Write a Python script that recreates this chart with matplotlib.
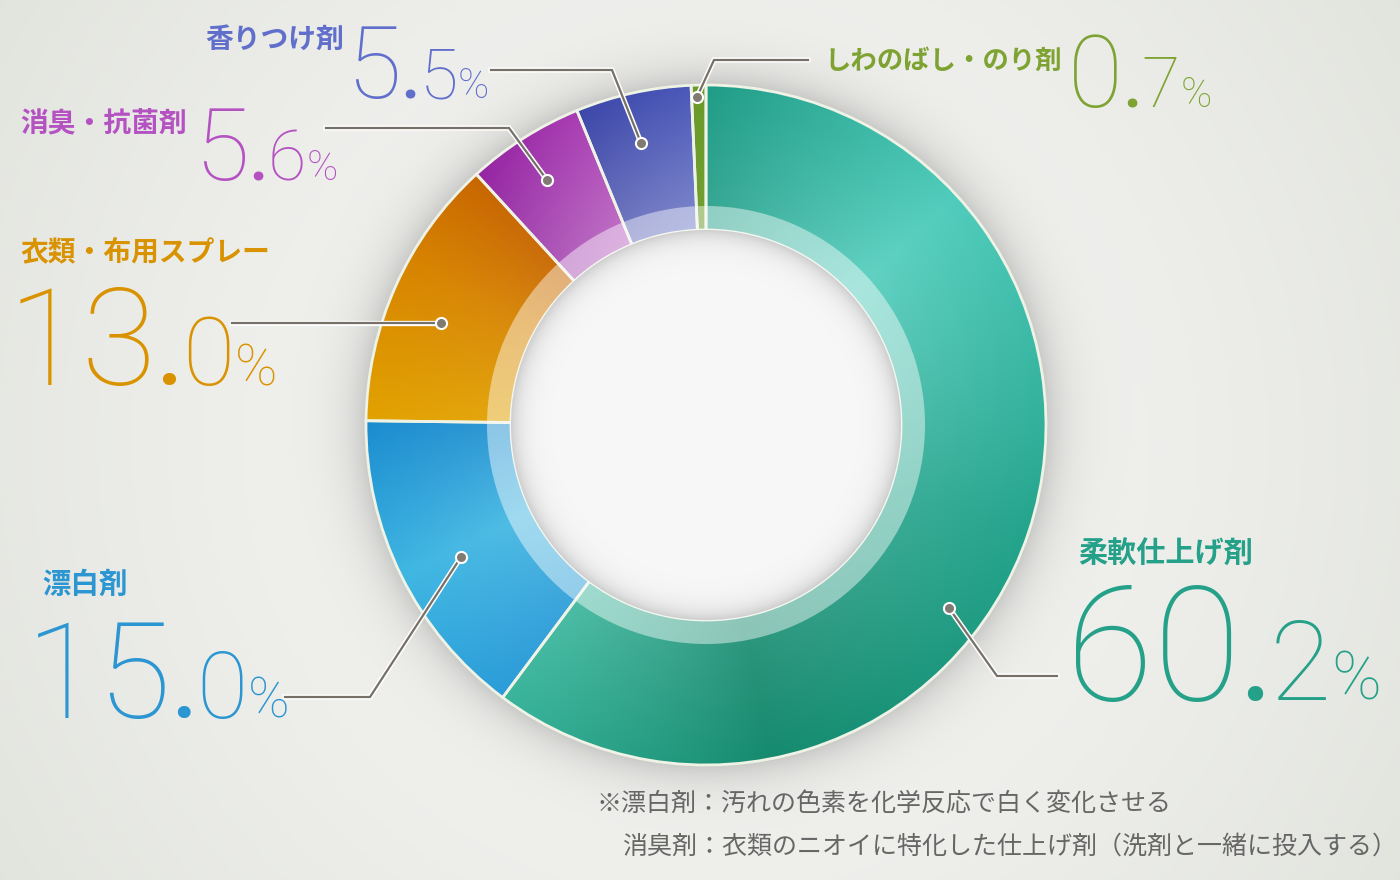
import numpy as np
import matplotlib
matplotlib.use('Agg')
import matplotlib.pyplot as plt
from matplotlib.patches import Circle, Wedge
from matplotlib.colors import to_rgb
import matplotlib.patheffects as pe

plt.rcParams['font.family'] = ['Noto Sans CJK JP', 'DejaVu Sans']

# data
labels = ['柔軟仕上げ剤', '漂白剤', '衣類・布用スプレー', '消臭・抗菌剤', '香りつけ剤', 'しわのばし・のり剤']
shares = [60.2, 15.0, 13.0, 5.6, 5.5, 0.7]
notes = ['※漂白剤：汚れの色素を化学反応で白く変化させる',
         '消臭剤：衣類のニオイに特化した仕上げ剤（洗剤と一緒に投入する）']

# colours
text_colors = ['#25a189', '#2b96d2', '#d99200', '#b452c2', '#5f6fcb', '#7ea332']
base_colors = ['#2aae96', '#2fa6dc', '#d88a00', '#a83cb4', '#4c5abc', '#6a9a28']
# angular colour stops along each slice (clockwise), plus lightening toward the hole
grad_stops = [
    [(0.0, '#1f9c86'), (0.22, '#50ccbc'), (0.5, '#24a48c'), (0.78, '#158a6e'), (1.0, '#3ab59c')],
    [(0.0, '#2a9cd8'), (0.5, '#3fb6e2'), (1.0, '#1a8ccf')],
    [(0.0, '#e2a200'), (0.6, '#d78400'), (1.0, '#c86600')],
    [(0.0, '#9424a2'), (1.0, '#a83cb2')],
    [(0.0, '#3c46a8'), (1.0, '#4a58b8')],
    [(0.0, '#6a9a28'), (1.0, '#6a9a28')],
]
lighten = [0.12, 0.1, 0.06, 0.3, 0.3, 0.05]

# layout (pixels from top-left)
W, H = 1400, 880
CX, CY = 706, 425
R_OUT, R_BAND, R_IN = 340, 219, 195
label_xy = [(1078, 553), (42, 585), (20, 252), (20, 123), (205, 40), (824, 61)]
label_size = [21, 20.5, 20, 20, 20, 19]
num_xy = [(1066, 700), (26, 718), (8, 385), (194, 180), (346, 98), (1068, 107)]
num_size = [115, 96, 98, 72, 72, 72]
leaders = [
    [(949, 608), (997, 676), (1057, 676)],
    [(461, 557), (370, 697), (285, 697)],
    [(441, 323), (232, 323)],
    [(547, 180), (509, 128), (326, 128)],
    [(641, 143), (612, 70), (491, 70)],
    [(697, 97), (714, 60), (808, 60)],
]

fig = plt.figure(figsize=(14, 8.8), dpi=100)
ax = fig.add_axes([0, 0, 1, 1])

# background with soft shadow around the ring
yy, xx = np.mgrid[0:H, 0:W] + 0.5
d = np.hypot(xx - 700, yy - 440) / 820
bg0, bg1 = np.array(to_rgb('#f6f6f4')), np.array(to_rgb('#e2e4de'))
bg = bg0 + (bg1 - bg0) * np.clip(d, 0, 1)[..., None] ** 1.6
rr = np.hypot(xx - CX, yy - CY)
shade = np.where(rr > R_OUT, 0.17 * np.exp(-(rr - R_OUT) / 22), 0)
bg = bg * (1 - shade[..., None])
ax.imshow(bg, extent=(0, W, H, 0), origin='upper', zorder=0, interpolation='bilinear')

# donut
wedges, _ = ax.pie(shares, radius=R_OUT, center=(CX, CY), startangle=-90, counterclock=True,
                   colors=base_colors, wedgeprops=dict(width=R_OUT - R_IN, edgecolor='#eef3e6', linewidth=2.0))

gy, gx = np.mgrid[CY - R_OUT:CY + R_OUT, CX - R_OUT:CX + R_OUT] + 0.5
ang = np.degrees(np.arctan2(CY - gy, gx - CX))
rad = np.clip((np.hypot(gx - CX, gy - CY) - R_IN) / (R_OUT - R_IN), 0, 1)
for w, stops, lt in zip(wedges, grad_stops, lighten):
    start = -w.theta1
    span = w.theta2 - w.theta1
    t = np.clip(((start - ang) % 360) / span, 0, 1)
    pos = [s[0] for s in stops]
    cols = np.array([to_rgb(s[1]) for s in stops])
    img = np.stack([np.interp(t, pos, cols[:, k]) for k in range(3)], axis=-1)
    mix = (lt * (1 - rad))[..., None]
    img = img * (1 - mix) + mix
    im = ax.imshow(img, extent=(CX - R_OUT, CX + R_OUT, CY + R_OUT, CY - R_OUT), origin='upper',
                   zorder=2, interpolation='bilinear')
    im.set_clip_path(w)
    w.set_facecolor('none')
    w.set_zorder(3)

ax.add_patch(Wedge((CX, CY), R_BAND, 0, 360, width=R_BAND - R_IN, fc='white', alpha=0.45, ec='none', zorder=4))
hole = Circle((CX, CY), R_IN, fc='#f8f8f8', ec='none', zorder=5)
ax.add_patch(hole)
ir = np.hypot(gx - CX, gy - CY)
sh = 0.17 * np.exp(-np.clip(R_IN - ir, 0, None) / 11)
himg = np.ones(gx.shape + (3,)) * np.array(to_rgb('#f8f8f8'))
himg = himg * (1 - sh[..., None])
him = ax.imshow(himg, extent=(CX - R_OUT, CX + R_OUT, CY + R_OUT, CY - R_OUT), origin='upper',
                zorder=6, interpolation='bilinear')
him.set_clip_path(hole)

# leader lines
for pts in leaders:
    xs, ys = zip(*pts)
    ax.plot(xs, ys, color='#767068', lw=1.6, solid_joinstyle='miter', zorder=7,
            path_effects=[pe.Stroke(linewidth=3.8, foreground='white'), pe.Normal()])
    ax.plot(xs[0], ys[0], 'o', ms=8, mfc='#807a72', mec='white', mew=1.5, zorder=8)

ax.set_xlim(0, W)
ax.set_ylim(H, 0)
ax.set_aspect('equal')
ax.axis('off')

renderer = fig.canvas.get_renderer()
num_family = ['Roboto', 'DejaVu Sans']

for lab, val, col, (lx, ly), ls, (nx, ny), fs in zip(labels, shares, text_colors, label_xy,
                                                     label_size, num_xy, num_size):
    ax.text(lx, ly, lab, color=col, fontsize=ls, fontweight='bold', va='center', ha='left', zorder=9)
    ip, dp = f'{val:.1f}'.split('.')
    x = nx
    # integer part, bold decimal point, smaller decimal digit, small percent sign
    for part, scale, wt in ((ip, 1.0, 100), ('.', 0.6, 'bold'), (dp, 0.7, 100), ('%', 0.42, 100)):
        t = ax.text(x, ny, part, color=col, fontsize=fs * scale, va='baseline', ha='left', zorder=9,
                    family=num_family, fontweight=wt)
        x += t.get_window_extent(renderer).width + 0.5

ax.text(597, 805, notes[0], color='#666666', fontsize=18, va='center', ha='left', zorder=9)
ax.text(622, 847, notes[1], color='#666666', fontsize=18, va='center', ha='left', zorder=9)

fig.savefig('out.png', dpi=100)
